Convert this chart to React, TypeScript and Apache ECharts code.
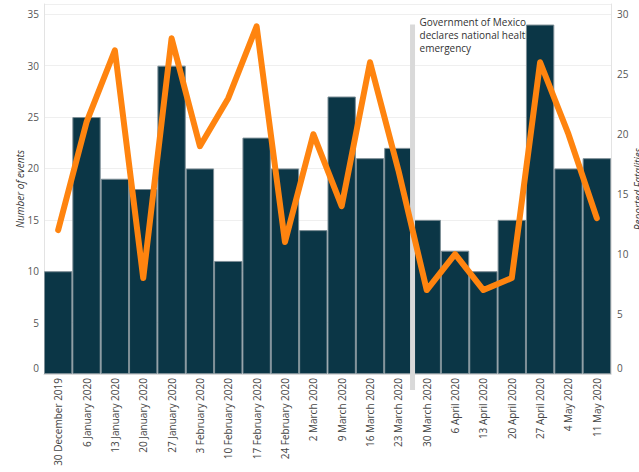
import React, { useEffect, useRef } from "react";
import * as echarts from "echarts";

const categories = [
  "30 December 2019", "6 January 2020", "13 January 2020", "20 January 2020",
  "27 January 2020", "3 February 2020", "10 February 2020", "17 February 2020",
  "24 February 2020", "2 March 2020", "9 March 2020", "16 March 2020",
  "23 March 2020", "30 March 2020", "6 April 2020", "13 April 2020",
  "20 April 2020", "27 April 2020", "4 May 2020", "11 May 2020",
];
const events = [10, 25, 19, 18, 30, 20, 11, 23, 20, 14, 27, 21, 22, 15, 12, 10, 15, 34, 20, 21];
const fatalities = [12, 21, 27, 8, 28, 19, 23, 29, 11, 20, 14, 26, 17, 7, 10, 7, 8, 26, 20, 13];
const annotationText = ["Government of Mexico", "declares national health", "emergency"];
const annotationAfter = "23 March 2020";
const annotationBefore = "30 March 2020";

const FONT = "'Open Sans', 'Noto Sans', sans-serif";

export default function App() {
  const ref = useRef<HTMLDivElement>(null);
  useEffect(() => {
    document.body.style.margin = "0";
    const chart = echarts.init(ref.current!, null, { renderer: "svg" });
    const option: any = {
      animation: false,
      textStyle: { fontFamily: FONT },
      grid: { left: 44, right: 28, top: 4, bottom: 98, containLabel: false, outerBoundsMode: "none" },
      xAxis: {
        type: "category",
        data: categories,
        boundaryGap: true,
        axisLine: { show: true, lineStyle: { color: "#d9d9d9" } },
        axisTick: { show: false },
        axisLabel: {
          rotate: 90,
          interval: 0,
          margin: 4,
          fontSize: 10,
          color: "#444",
          fontFamily: FONT,
        },
      },
      yAxis: [
        {
          type: "value",
          min: 0,
          max: 36,
          interval: 5,
          axisLine: { show: true, lineStyle: { color: "#e3e3e3" } },
          axisTick: { show: false },
          splitLine: { show: true, lineStyle: { color: "#efefef" } },
          axisLabel: {
            showMaxLabel: false,
            margin: 5,
            fontSize: 10,
            color: "#555",
            fontFamily: FONT,
            formatter: (v: number) => (v === 0 ? "{z|0}" : String(v)),
            rich: { z: { fontSize: 10, color: "#555", padding: [0, 0, 12, 0], fontFamily: FONT } },
          },
          name: "Number of events",
          nameLocation: "middle",
          nameMoveOverlap: false,
          nameGap: 19,
          nameTextStyle: { fontSize: 10, fontStyle: "italic", color: "#333", fontFamily: FONT },
        },
        {
          type: "value",
          position: "right",
          min: 0,
          max: (30 * 36) / 35,
          interval: 5,
          axisLine: { show: true, lineStyle: { color: "#e3e3e3" } },
          axisTick: { show: false },
          splitLine: { show: false },
          axisLabel: {
            showMaxLabel: false,
            margin: 6,
            fontSize: 10,
            color: "#555",
            fontFamily: FONT,
            formatter: (v: number) => (v === 0 ? "{z|0}" : String(v)),
            rich: { z: { fontSize: 10, color: "#555", padding: [0, 0, 12, 0], fontFamily: FONT } },
          },
          name: "Reported Fatalities",
          nameLocation: "middle",
          nameRotate: 90,
          nameMoveOverlap: false,
          nameGap: 22,
          nameTextStyle: { fontSize: 10, fontStyle: "italic", color: "#333", fontFamily: FONT },
        },
      ],
      series: [
        {
          type: "bar",
          name: "Number of events",
          data: events,
          yAxisIndex: 0,
          barCategoryGap: "0%",
          z: 2,
          itemStyle: { color: "#0b3646", borderColor: "#7d8e96", borderWidth: 1 },
        },
        {
          type: "line",
          name: "Reported Fatalities",
          data: fatalities,
          yAxisIndex: 1,
          showSymbol: false,
          symbol: "none",
          z: 6,
          lineStyle: { color: "#ff840f", width: 6, join: "round", cap: "round" },
        },
      ],
    };
    chart.setOption(option);

    const xa = chart.convertToPixel({ xAxisIndex: 0 }, annotationAfter) as number;
    const xb = chart.convertToPixel({ xAxisIndex: 0 }, annotationBefore) as number;
    const mid = (xa + xb) / 2;
    const y0 = chart.convertToPixel({ yAxisIndex: 0 }, 0) as number;
    const yTop = chart.convertToPixel({ yAxisIndex: 0 }, 34) as number;

    chart.setOption({
      graphic: [
        {
          type: "rect",
          z: 4,
          shape: { x: mid - 2.5, y: yTop, width: 5, height: y0 - yTop + 16 },
          style: { fill: "#d9d9d9" },
          silent: true,
        },
        {
          type: "text",
          z: 1,
          x: mid + 7,
          y: yTop - 9,
          style: {
            text: annotationText.join("\n"),
            fontSize: 10,
            lineHeight: 13,
            fill: "#333",
            fontFamily: FONT,
          },
          silent: true,
        },
      ],
    });
    return () => chart.dispose();
  }, []);
  return <div ref={ref} style={{ width: 639, height: 472 }} />;
}
